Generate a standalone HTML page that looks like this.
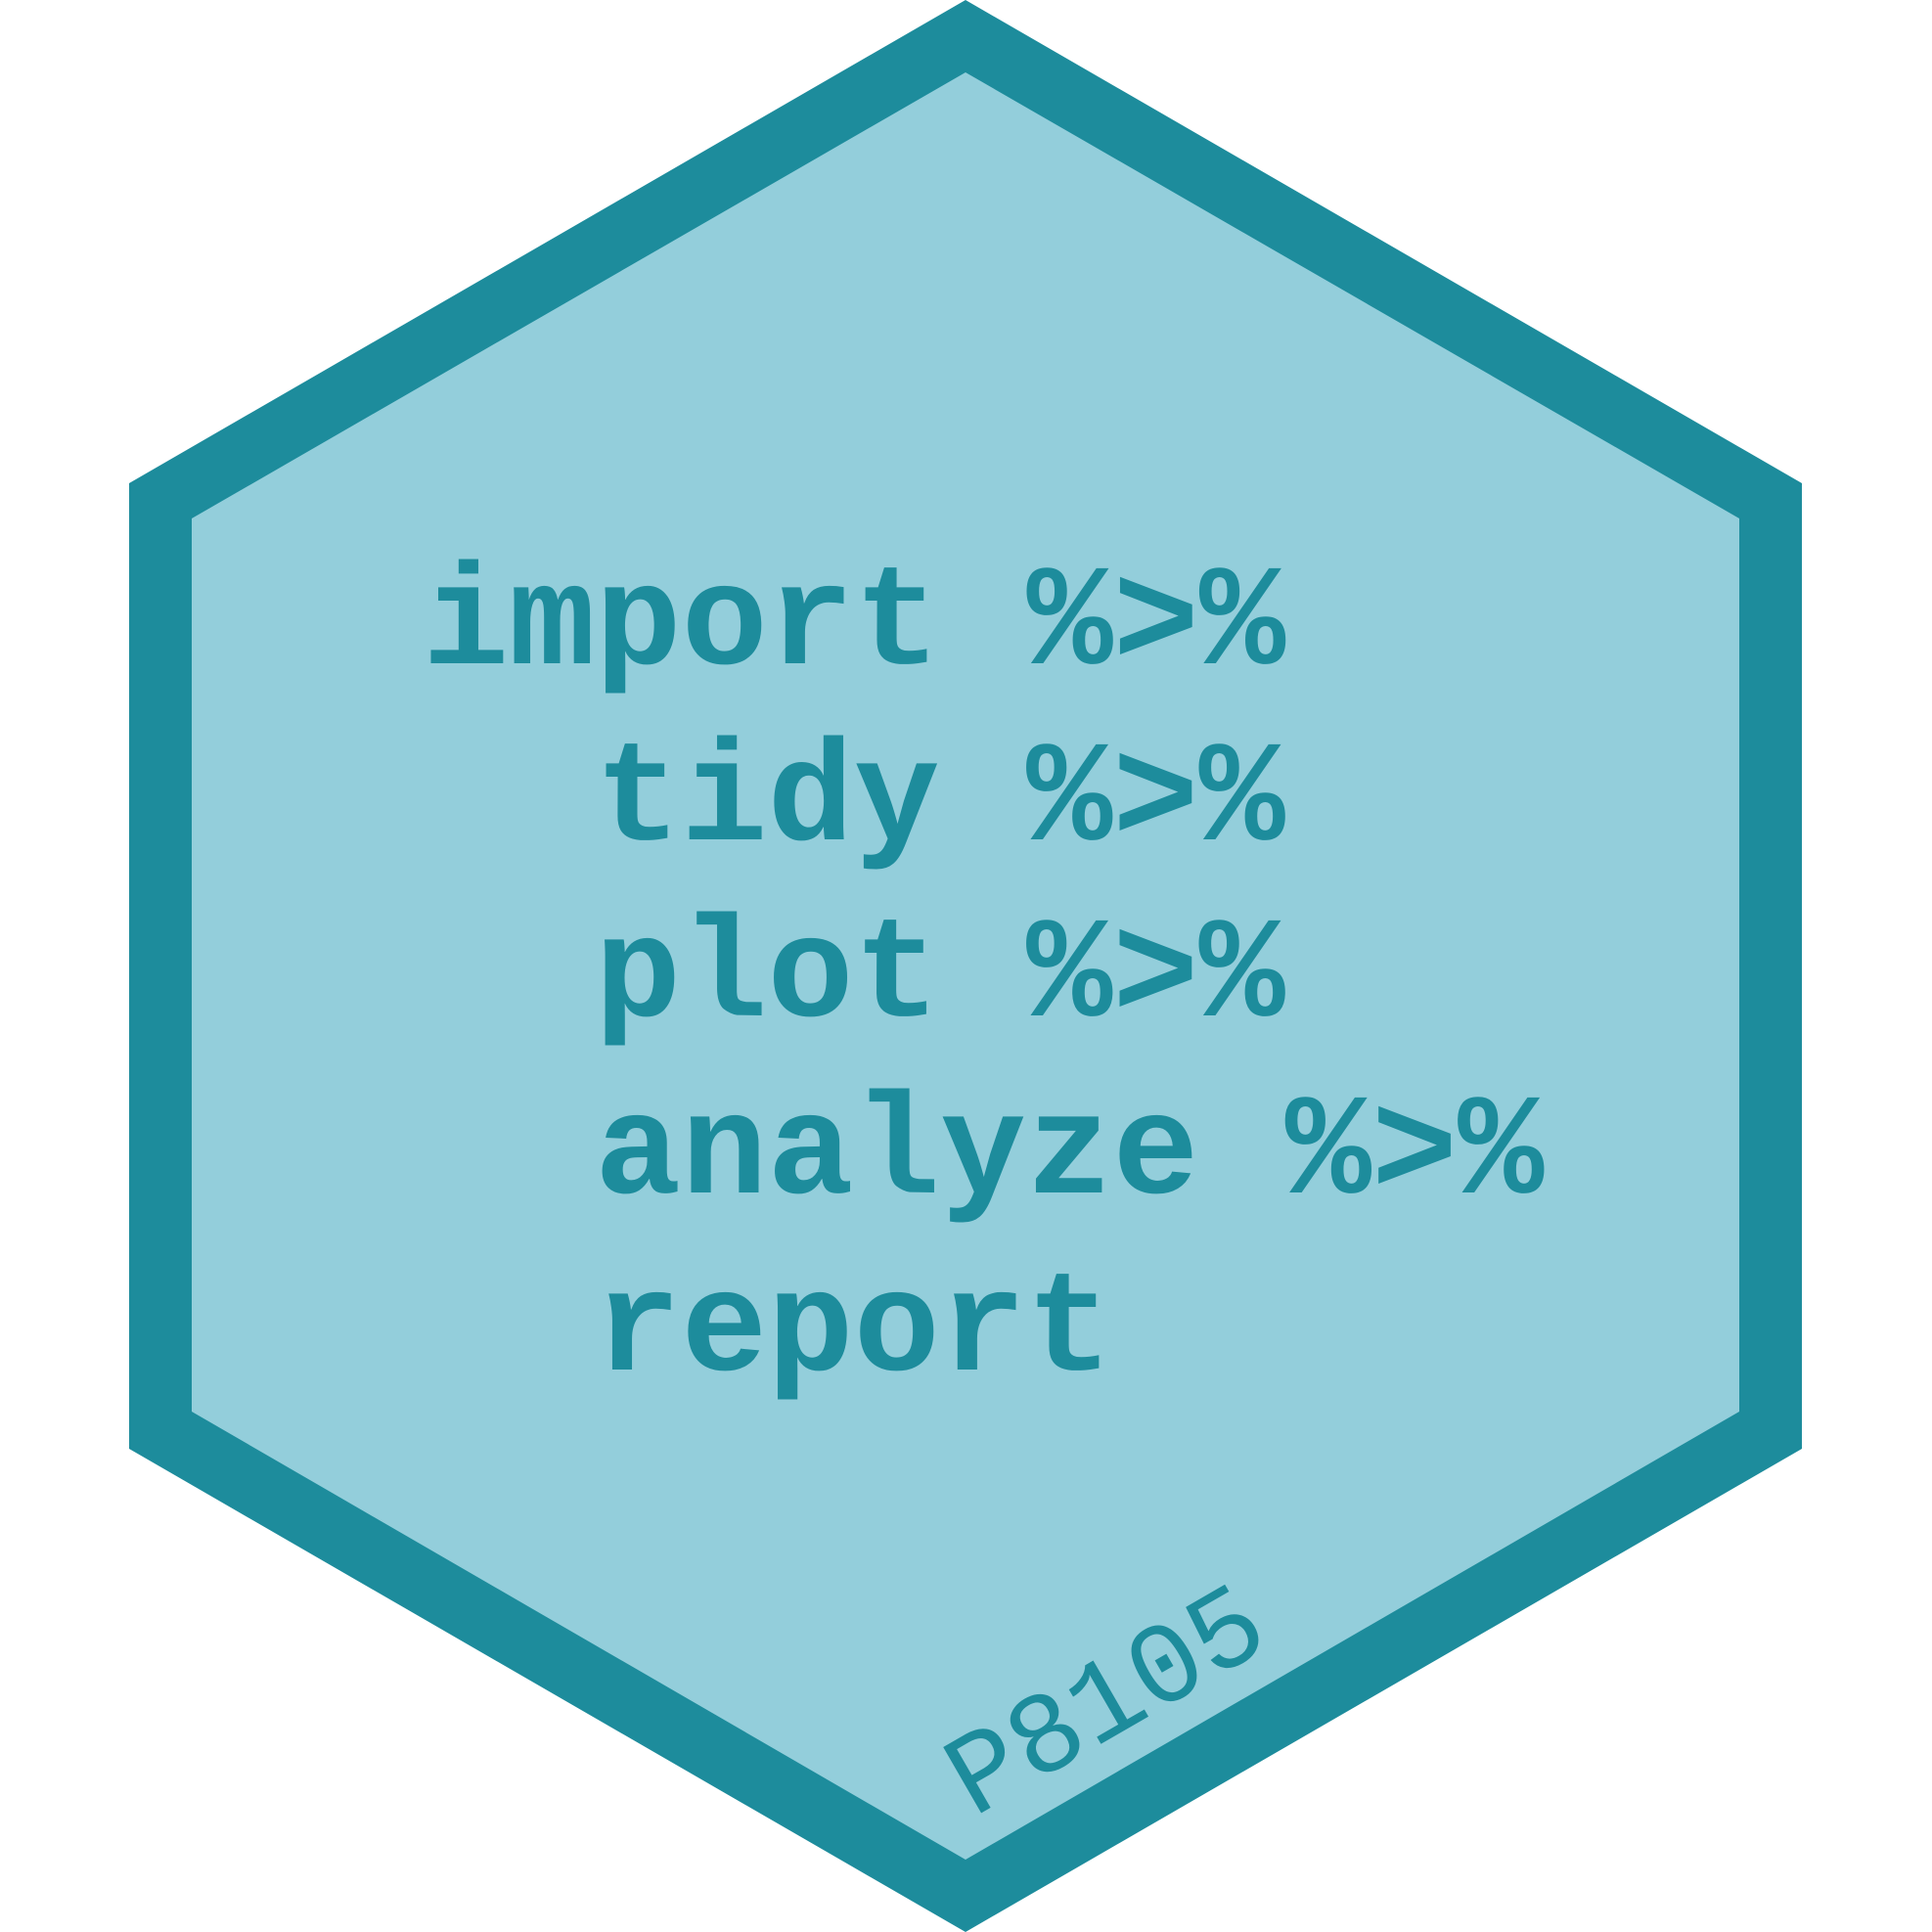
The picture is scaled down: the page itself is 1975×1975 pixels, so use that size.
<!DOCTYPE html>
<html><head><meta charset="utf-8"><style>
html,body{margin:0;padding:0;background:#fff;}
svg{display:block;}
.t{font-family:"Liberation Mono","Courier New",monospace;font-weight:bold;font-size:147px;fill:#1D8C9C;white-space:pre;}
.p{font-family:"Liberation Mono","Courier New",monospace;font-size:118px;fill:#1D8C9C;}
</style></head><body>
<svg width="1975" height="1975" viewBox="0 0 1975 1975" xmlns="http://www.w3.org/2000/svg">
<polygon points="987,0 1842,494 1842,1481 987,1975 132,1481 132,494" fill="#1D8C9C"/>
<polygon points="987,74 1778,530 1778,1443 987,1901 196,1443 196,530" fill="#93CEDB"/>
<text class="t" x="432" y="678">import %&gt;%</text>
<text class="t" x="608" y="858">tidy %&gt;%</text>
<text class="t" x="608" y="1038">plot %&gt;%</text>
<text class="t" x="608" y="1219">analyze %&gt;%</text>
<text class="t" x="608" y="1400">report</text>
<text class="p" x="995" y="1858" transform="rotate(-30 995 1858)">P8105</text>
</svg>
</body></html>
